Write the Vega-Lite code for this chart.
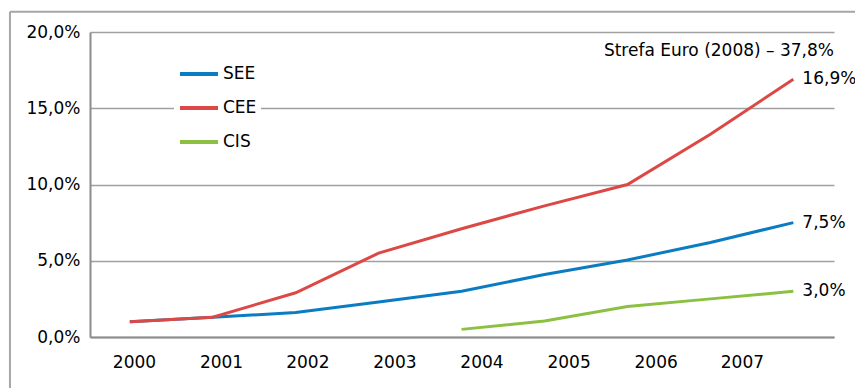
{
  "$schema": "https://vega.github.io/schema/vega-lite/v6.json",
  "autosize": {"type": "none"},
  "padding": {"left": 90, "top": 32, "right": 21, "bottom": 51},
  "width": 744,
  "height": 305,
  "background": "white",
  "config": {
    "font": "DejaVu Sans",
    "view": {"stroke": null},
    "locale": {"number": {"decimal": ",", "thousands": " ", "grouping": [3], "currency": ["", " zł"]}}
  },
  "data": {"values": [
    {"year": 2000, "series": "SEE", "value": 0.010},
    {"year": 2001, "series": "SEE", "value": 0.013},
    {"year": 2002, "series": "SEE", "value": 0.016},
    {"year": 2003, "series": "SEE", "value": 0.023},
    {"year": 2004, "series": "SEE", "value": 0.030},
    {"year": 2005, "series": "SEE", "value": 0.041},
    {"year": 2006, "series": "SEE", "value": 0.0505},
    {"year": 2007, "series": "SEE", "value": 0.062},
    {"year": 2008, "series": "SEE", "value": 0.075},
    {"year": 2000, "series": "CEE", "value": 0.010},
    {"year": 2001, "series": "CEE", "value": 0.013},
    {"year": 2002, "series": "CEE", "value": 0.029},
    {"year": 2003, "series": "CEE", "value": 0.055},
    {"year": 2004, "series": "CEE", "value": 0.071},
    {"year": 2005, "series": "CEE", "value": 0.086},
    {"year": 2006, "series": "CEE", "value": 0.100},
    {"year": 2007, "series": "CEE", "value": 0.133},
    {"year": 2008, "series": "CEE", "value": 0.169},
    {"year": 2004, "series": "CIS", "value": 0.005},
    {"year": 2005, "series": "CIS", "value": 0.0105},
    {"year": 2006, "series": "CIS", "value": 0.020},
    {"year": 2007, "series": "CIS", "value": 0.025},
    {"year": 2008, "series": "CIS", "value": 0.030}
  ]},
  "layer": [
    {
      "data": {"values": [{"note": "frame"}]},
      "mark": {"type": "rule", "color": "#a6a6a6", "strokeWidth": 2, "clip": false},
      "encoding": {
        "x": {"datum": 1998.555, "type": "quantitative"},
        "y": {"datum": 0.2132, "type": "quantitative"},
        "y2": {"datum": -0.2}
      }
    },
    {
      "data": {"values": [{"note": "frame"}]},
      "mark": {"type": "rule", "color": "#a6a6a6", "strokeWidth": 2, "clip": false},
      "encoding": {
        "x": {"datum": 1998.555, "type": "quantitative"},
        "x2": {"datum": 2010},
        "y": {"datum": 0.2132, "type": "quantitative"}
      }
    },
    {
      "mark": {"type": "line", "strokeWidth": 3, "clip": false},
      "encoding": {
        "x": {
          "field": "year", "type": "quantitative",
          "scale": {"domain": [1999.52, 2008.49], "nice": false, "zero": false},
          "axis": {
            "title": null,
            "values": [2000.05, 2001.1, 2002.14, 2003.19, 2004.24, 2005.29, 2006.34, 2007.38],
            "labelExpr": "'' + round(datum.value)",
            "grid": false, "ticks": false,
            "domainColor": "#8c8c8c", "domainWidth": 2,
            "labelFontSize": 17, "labelColor": "#000000", "labelPadding": 17, "labelFont": "DejaVu Sans"
          }
        },
        "y": {
          "field": "value", "type": "quantitative",
          "scale": {"domain": [0, 0.2], "nice": false},
          "axis": {
            "title": null,
            "values": [0, 0.05, 0.1, 0.15, 0.2],
            "format": ".1%",
            "grid": true, "gridColor": "#a0a0a0", "gridWidth": 1.3,
            "ticks": false,
            "domainColor": "#8c8c8c", "domainWidth": 2,
            "labelFontSize": 17, "labelColor": "#000000", "labelPadding": 10, "labelFont": "DejaVu Sans"
          }
        },
        "color": {
          "field": "series", "type": "nominal",
          "scale": {"domain": ["SEE", "CEE", "CIS"], "range": ["#0b7cc1", "#dc4846", "#8cc043"]},
          "legend": {
            "title": null,
            "orient": "none",
            "legendX": 84,
            "legendY": 17,
            "fillColor": "white",
            "padding": 4,
            "symbolType": "stroke",
            "symbolSize": 1444,
            "symbolStrokeWidth": 4,
            "labelFontSize": 17,
            "labelColor": "#000000",
            "labelOffset": 3,
            "rowPadding": 5,
            "labelFont": "DejaVu Sans"
          }
        }
      }
    },
    {
      "transform": [{"filter": "datum.year == 2008"}],
      "mark": {"type": "text", "align": "left", "baseline": "middle", "dx": 9, "fontSize": 17, "color": "#000000", "clip": false},
      "encoding": {
        "x": {"field": "year", "type": "quantitative"},
        "y": {"field": "value", "type": "quantitative"},
        "text": {"field": "value", "type": "quantitative", "format": ".1%"}
      }
    },
    {
      "data": {"values": [{"note": "title"}]},
      "mark": {"type": "text", "align": "right", "baseline": "middle", "fontSize": 17, "color": "#000000", "clip": false},
      "encoding": {
        "x": {"datum": 2008.49, "type": "quantitative"},
        "y": {"datum": 0.1875, "type": "quantitative"},
        "text": {"value": "Strefa Euro (2008) – 37,8%"}
      }
    }
  ]
}
